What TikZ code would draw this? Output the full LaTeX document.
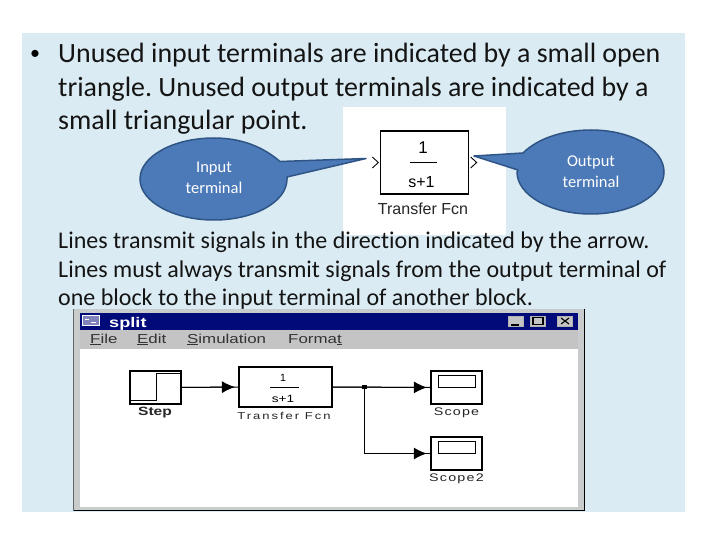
\documentclass[tikz,border=0pt]{standalone}
\usepackage{fontspec}
\setmainfont[Ligatures=CommonOff]{Carlito}
\newfontfamily\uifont[FakeStretch=1.3]{Liberation Sans}
\newfontfamily\uispaced[FakeStretch=1.3,LetterSpace=11]{Liberation Sans}
\newfontfamily\uispacedwide[FakeStretch=1.3,LetterSpace=20]{Liberation Sans}
\newfontfamily\plainui{Liberation Sans}
\usetikzlibrary{arrows.meta,shapes.geometric,calc}
\definecolor{slidebg}{HTML}{DAEBF3}
\definecolor{calloutfill}{HTML}{4C7AB8}
\definecolor{calloutline}{HTML}{2F5586}
\definecolor{winframe}{HTML}{C8CCCC}
\definecolor{titlebar}{HTML}{000A78}
\definecolor{menubar}{HTML}{C4C4C4}
\tikzset{
  x=1pt,y=-1pt,
  bodytext/.style={anchor=base west,inner sep=0pt,font=\frenchspacing\fontsize{27.9}{27.9}\selectfont,text=black!92},
  paratext/.style={anchor=base west,inner sep=0pt,font=\frenchspacing\fontsize{24}{24}\selectfont,text=black!92},
  calloutshape/.style={draw=calloutline,line width=1.5pt,fill=calloutfill,line join=round},
  callouttext/.style={align=center,text=white,inner sep=0pt,font=\fontsize{16.5}{21}\selectfont},
  simblock/.style={draw=black,fill=white,line width=1.3pt,inner sep=0pt,rectangle},
  uilabel/.style={inner sep=0pt,font=\uispaced\fontsize{11}{11}\selectfont,text=black!85},
  menulabel/.style={anchor=base west,inner sep=0pt,font=\uifont\fontsize{13}{13}\selectfont,text=black!80},
  sigline/.style={draw=black,line width=1pt},
  sigarrow/.style={sigline,shorten >=3.5pt,-{Latex[length=13pt,width=12pt]}},
  winbutton/.style={draw=black!30,fill=menubar,minimum width=15pt,minimum height=10pt,inner sep=0pt,rectangle}
}
\begin{document}
\begin{tikzpicture}
\useasboundingbox (0,0) rectangle (720,540);
\fill[white] (0,0) rectangle (720,540);
\fill[slidebg] (22,33) rectangle (685,512);

% bullet text
\node[inner sep=0pt,font=\fontsize{20}{20}\selectfont] at (35,55) (bullet) {•};
\node[bodytext] at (58,63) (l1) {Unused input terminals are indicated by a small open};
\node[bodytext] at (58,96.5) (l2) {triangle. Unused output terminals are indicated by a};
\node[bodytext] at (58,130) (l3) {small triangular point.};

% block picture
\fill[white] (343,107) rectangle (506,235);
\node[simblock,minimum width=88pt,minimum height=63pt] (tf) at (424.5,162.5) {};
\node[inner sep=0pt,font=\plainui\fontsize{17}{17}\selectfont] (tfnum) at (423,147.5) {1};
\node[inner sep=0pt,font=\plainui\fontsize{16}{16}\selectfont] (tfden) at (421.5,182) {s+1};
\draw[line width=1.3pt] (410,162.5) -- (437,162.5);
\node[inner sep=0pt,font=\plainui\fontsize{16}{16}\selectfont,text=black!85] (tfname) at (423,209) {Transfer Fcn};
\draw[line width=0.9pt] (tf.west) ++(-7.5,-5.5) -- ++(6,5.5) -- ++(-6,5.5);
\draw[line width=0.9pt] (tf.east) ++(1.5,-5.5) -- ++(6,5.5) -- ++(-6,5.5);

% callouts
\path[calloutshape] (287,177) -- (366,158.5) -- (280,161.5)
  .. controls (262,146) and (240,138) .. (214,138)
  .. controls (174,138) and (140,156) .. (140,179)
  .. controls (140,202) and (174,220) .. (214,220)
  .. controls (254,220) and (287,202) .. (287,179) -- cycle;
\path[calloutshape] (474,156) -- (523,153)
  .. controls (537,139) and (562,130) .. (591,130)
  .. controls (632,130) and (664,149) .. (664,172)
  .. controls (664,195) and (632,214) .. (591,214)
  .. controls (550,214) and (517,195) .. (517,172)
  .. controls (517,171) and (517,171) .. (518,170) -- cycle;
\node[callouttext] (inlabel) at (214,178) {Input\\terminal};
\node[callouttext] (outlabel) at (591,172) {Output\\terminal};

% second paragraph
\node[paratext] at (58,248) (p1) {Lines transmit signals in the direction indicated by the arrow.};
\node[paratext] at (58,277) (p2) {Lines must always transmit signals from the output terminal of};
\node[paratext] at (58,305) (p3) {one block to the input terminal of another block.};

% window
\fill[winframe] (73,309) rectangle (585,511);
\draw[black,line width=1pt] (73.5,510.5) -- (584.5,510.5) -- (584.5,309);
\draw[black!60,line width=1pt] (73.5,510.5) -- (73.5,309);
\fill[titlebar] (80,313) rectangle (578,330);
\fill[menubar] (80,330) rectangle (578,349);
\fill[white] (80,349) rectangle (578,507);
\node[rectangle,draw=white,fill=titlebar!50!white,minimum width=17pt,minimum height=10pt,inner sep=0pt] (winicon) at (91,320.5) {};
\draw[white,line width=0.8pt] (85,319) -- (89,319) (91,322) -- (96,322);
\node[anchor=base west,inner sep=0pt,text=white,font=\uifont\bfseries\fontsize{14}{14}\selectfont] (wintitle) at (109,327) {split};
\node[winbutton] (minbtn) at (516,321) {};
\node[winbutton] (maxbtn) at (538,321) {};
\node[winbutton] (closebtn) at (565,321) {};
\draw[black,line width=1.3pt] (511,325) -- (519,325);
\draw[black,line width=1.2pt] (533,317.5) rectangle (543,324.5);
\draw[black,line width=1.1pt] (561,318) -- (569,324) (561,324) -- (569,318);
\node[menulabel] (mfile) at (90,343) {\underline{F}ile};
\node[menulabel] (medit) at (137,343) {\underline{E}dit};
\node[menulabel] (msim) at (187,343) {\underline{S}imulation};
\node[menulabel] (mfmt) at (288,343) {Forma\underline{t}};

% model
\node[simblock,minimum width=51pt,minimum height=33pt] (step) at (155.5,387.5) {};
\draw[line width=1pt] (130.5,400.5) -- (156,400.5) -- (156,373.5) -- (180.5,373.5);
\node[uilabel,font=\uifont\bfseries\fontsize{12}{12}\selectfont] (steplabel) at (155,413) {Step};
\node[simblock,minimum width=93pt,minimum height=40pt,line width=1.1pt] (tfb) at (285.5,387) {};
\node[inner sep=0pt,font=\plainui\fontsize{10.5}{10.5}\selectfont] (tfbnum) at (283,378) {1};
\node[inner sep=0pt,font=\uifont\fontsize{10.5}{10.5}\selectfont] (tfbden) at (283,399) {s+1};
\draw[line width=0.8pt] (270,387) -- (299,387);
\node[uilabel,font=\uispacedwide\fontsize{10}{10}\selectfont] (tfblabel) at (284,416) {Transfer Fcn};
\node[simblock,minimum width=51pt,minimum height=33pt] (scope) at (456.5,387.5) {};
\node[rectangle,draw=black,line width=1pt,minimum width=37pt,minimum height=12pt,inner sep=0pt] (scopescr) at (456.5,381.5) {};
\node[uilabel] (scopelabel) at (456.5,413) {Scope};
\node[simblock,minimum width=51pt,minimum height=33pt] (scopetwo) at (456.5,453.5) {};
\node[rectangle,draw=black,line width=1pt,minimum width=37pt,minimum height=12pt,inner sep=0pt] (scopetwoscr) at (456.5,447.5) {};
\node[uilabel] (scopetwolabel) at (456.5,479) {Scope2};
\coordinate (junction) at (364.5,387);
\draw[sigline] (step.east) -- (tfb.west);
\draw[sigline] (tfb.east) -- (scope.west);
\draw[sigarrow] (step.east) -- (tfb.west);
\draw[sigarrow] (tfb.east) -- (scope.west);
\draw[sigline,line width=1.4pt] (junction) |- (scopetwo.west);
\draw[sigarrow,line width=1.4pt] (junction) |- (scopetwo.west);
\fill[black] ($(junction)+(-2.5,-2)$) rectangle ++(5,4);
\end{tikzpicture}
\end{document}
